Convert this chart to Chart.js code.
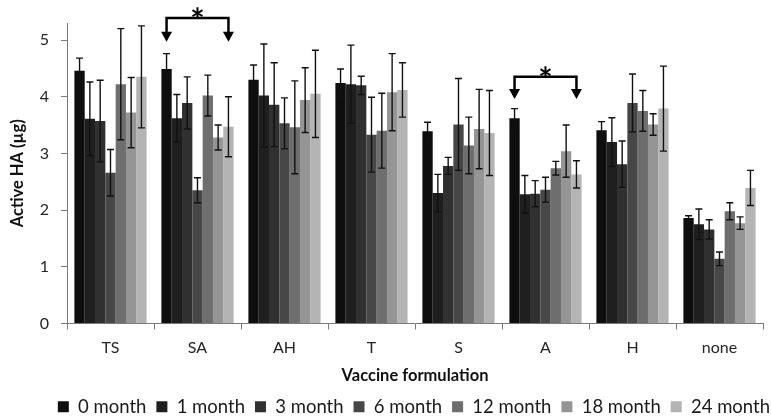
<!DOCTYPE html>
<html>
<head>
<meta charset="utf-8">
<script src="https://cdn.jsdelivr.net/npm/chart.js@4"></script>
<style>
  html, body { margin: 0; padding: 0; background: #fff; }
  #wrap { width: 771px; height: 419px; }
</style>
</head>
<body>
<div id="wrap"><canvas id="haChart"></canvas></div>
<script>
// Active HA per formulation, measured at each storage time point
const formulations = ["TS", "SA", "AH", "T", "S", "A", "H", "none"];
const timepoints = ["0 month", "1 month", "3 month", "6 month", "12 month", "18 month", "24 month"];

const month0  = [4.46, 4.49, 4.30, 4.24, 3.39, 3.62, 3.41, 1.86];
const month1  = [3.61, 3.62, 4.02, 4.22, 2.30, 2.28, 3.20, 1.75];
const month3  = [3.57, 3.89, 3.86, 4.20, 2.78, 2.29, 2.81, 1.66];
const month6  = [2.66, 2.35, 3.53, 3.33, 3.51, 2.36, 3.89, 1.14];
const month12 = [4.22, 4.02, 3.46, 3.40, 3.14, 2.74, 3.75, 1.98];
const month18 = [3.72, 3.28, 3.94, 4.08, 3.43, 3.04, 3.51, 1.77];
const month24 = [4.35, 3.47, 4.05, 4.12, 3.36, 2.63, 3.79, 2.39];

// standard deviations (symmetric)
const sd0  = [0.22, 0.27, 0.26, 0.25, 0.16, 0.17, 0.15, 0.04];
const sd1  = [0.65, 0.42, 0.91, 0.69, 0.33, 0.33, 0.43, 0.27];
const sd3  = [0.72, 0.46, 0.74, 0.16, 0.15, 0.23, 0.41, 0.17];
const sd6  = [0.41, 0.22, 0.45, 0.66, 0.81, 0.22, 0.51, 0.12];
const sd12 = [0.98, 0.36, 0.82, 0.66, 0.50, 0.12, 0.36, 0.15];
const sd18 = [0.62, 0.22, 0.57, 0.68, 0.70, 0.46, 0.19, 0.11];
const sd24 = [0.90, 0.53, 0.77, 0.48, 0.75, 0.24, 0.75, 0.31];

const yTicks = [0, 1, 2, 3, 4, 5];

// significance brackets: group, bracket level, arrow tip (in µg)
const sigGroups = ["SA", "A"];
const sigLevels = [5.39, 4.35];
const sigTips = [4.97, 3.96];

const series = [month0, month1, month3, month6, month12, month18, month24];
const errors = [sd0, sd1, sd3, sd6, sd12, sd18, sd24];
const shades = ["#0e0e0e", "#1f1f1f", "#303030", "#474747", "#6e6e6e", "#959595", "#b4b4b4"];

const FONT = "Lato, 'Open Sans', sans-serif";

const errorBars = {
  id: "errorBars",
  afterDatasetsDraw(chart) {
    const { ctx, scales: { y } } = chart;
    ctx.save();
    ctx.strokeStyle = "#111";
    ctx.lineWidth = 1.4;
    chart.data.datasets.forEach((ds, i) => {
      const meta = chart.getDatasetMeta(i);
      meta.data.forEach((bar, j) => {
        const v = ds.data[j], e = errors[i][j];
        const hi = y.getPixelForValue(v + e);
        const lo = y.getPixelForValue(v - e);
        const x = bar.x;
        ctx.beginPath();
        ctx.moveTo(x, hi); ctx.lineTo(x, lo);
        ctx.moveTo(x - 3.5, hi); ctx.lineTo(x + 3.5, hi);
        ctx.moveTo(x - 3.5, lo); ctx.lineTo(x + 3.5, lo);
        ctx.stroke();
      });
    });
    ctx.restore();
  }
};

const sigBrackets = {
  id: "sigBrackets",
  afterDraw(chart) {
    const { ctx, scales: { y } } = chart;
    const first = chart.getDatasetMeta(0);
    const last = chart.getDatasetMeta(series.length - 1);
    ctx.save();
    ctx.strokeStyle = "#000";
    ctx.fillStyle = "#000";
    ctx.lineWidth = 2.5;
    sigGroups.forEach((g, k) => {
      const idx = formulations.indexOf(g);
      const x1 = first.data[idx].x, x2 = last.data[idx].x;
      const yTop = y.getPixelForValue(sigLevels[k]);
      const yTip = y.getPixelForValue(sigTips[k]);
      const head = 10;
      ctx.beginPath();
      ctx.moveTo(x1, yTip - head + 1);
      ctx.lineTo(x1, yTop);
      ctx.lineTo(x2, yTop);
      ctx.lineTo(x2, yTip - head + 1);
      ctx.stroke();
      [x1, x2].forEach(x => {
        ctx.beginPath();
        ctx.moveTo(x - 5.5, yTip - head);
        ctx.lineTo(x + 5.5, yTip - head);
        ctx.lineTo(x, yTip);
        ctx.closePath();
        ctx.fill();
      });
      ctx.font = "bold 34px " + FONT;
      ctx.textAlign = "center";
      ctx.textBaseline = "alphabetic";
      ctx.fillText("*", (x1 + x2) / 2, yTop + 15);
    });
    ctx.restore();
  }
};

// let the legend row run out to the right edge of the canvas
const legendNudge = {
  id: "legendNudge",
  afterLayout(chart) {
    chart.legend.left += 17;
    chart.legend.right += 17;
  }
};

new Chart(document.getElementById("haChart"), {
  type: "bar",
  data: {
    labels: formulations,
    datasets: series.map((d, i) => ({
      label: timepoints[i],
      data: d,
      backgroundColor: shades[i],
      borderWidth: 0,
      barPercentage: 1.0,
      categoryPercentage: 0.83
    }))
  },
  options: {
    responsive: true,
    maintainAspectRatio: false,
    animation: false,
    layout: { padding: { top: 23, right: 8, bottom: -7, left: 0 } },
    plugins: {
      tooltip: { enabled: false },
      legend: {
        position: "bottom",
        align: "end",
        labels: {
          boxWidth: 11,
          boxHeight: 11,
          padding: 10,
          color: "#1a1a1a",
          font: { family: FONT, size: 18.5 }
        }
      }
    },
    scales: {
      x: {
        afterFit(s) { s.height = 64; },
        grid: { display: true, offset: true, drawOnChartArea: false, tickLength: 6, color: "#7a7a7a" },
        border: { display: true, color: "#7a7a7a", width: 1 },
        ticks: { color: "#262626", padding: 9, font: { family: FONT, size: 16 } },
        title: {
          display: true,
          text: "Vaccine formulation",
          color: "#111",
          padding: { top: 0, bottom: 2 },
          font: { family: FONT, size: 16.5, weight: "bold" }
        }
      },
      y: {
        min: 0,
        max: 5.3,
        afterFit(s) { s.width = 67; },
        afterBuildTicks(s) { s.ticks = yTicks.map(v => ({ value: v })); },
        grid: { display: true, drawOnChartArea: false, tickLength: 6, color: "#7a7a7a" },
        border: { display: true, color: "#7a7a7a", width: 1 },
        ticks: { color: "#262626", padding: 12, font: { family: FONT, size: 16 } },
        title: {
          display: true,
          text: "Active HA (µg)",
          color: "#111",
          padding: { top: 8, bottom: 0 },
          font: { family: FONT, size: 16.5, weight: "bold" }
        }
      }
    }
  },
  plugins: [errorBars, sigBrackets, legendNudge]
});
</script>
</body>
</html>
